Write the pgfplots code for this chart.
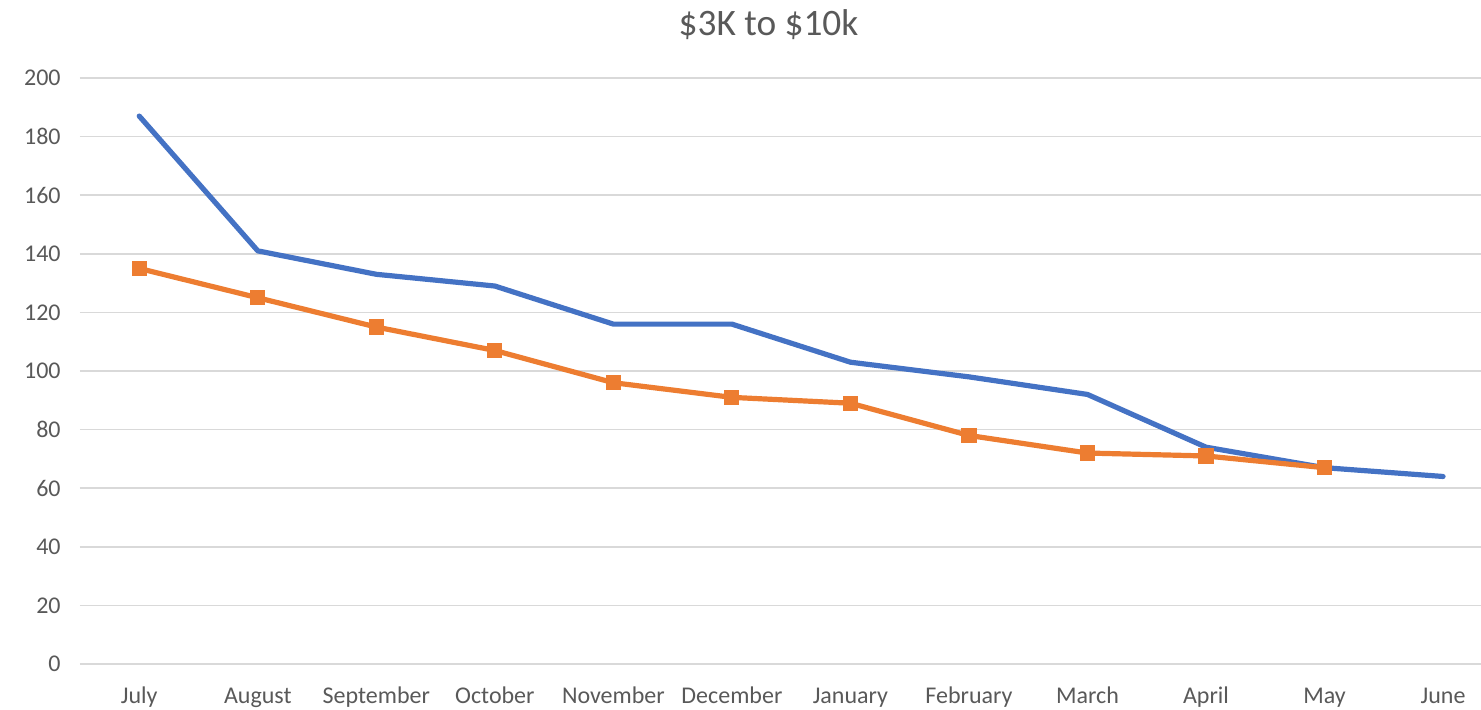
\documentclass[border=0pt]{standalone}
\usepackage{pgfplots}
\pgfplotsset{compat=1.18}
\usepackage{fontspec}
\setmainfont{Carlito}
\definecolor{cblue}{HTML}{4472C4}
\definecolor{corange}{HTML}{ED7D31}
\definecolor{cgrid}{HTML}{D9D9D9}
\definecolor{ctext}{HTML}{595959}
\begin{document}
\begin{tikzpicture}
\path[use as bounding box] (-60pt,-34.5pt) rectangle (1050.75pt,498pt);
\begin{axis}[
  at={(0,0)}, anchor=south west,
  scale only axis,
  width=1050.75pt, height=439.5pt,
  xmin=-0.5, xmax=11.32,
  ymin=0, ymax=200,
  ytick={0,20,...,200},
  xtick={0,...,11},
  xticklabels={July,August,September,October,November,December,January,February,March,April,May,June},
  axis line style={draw=none},
  major tick length=0pt,
  ymajorgrids,
  grid style={cgrid, line width=1.2pt},
  tick label style={font=\fontsize{18}{20}\selectfont, text=ctext},
  /pgf/number format/assume math mode=true,
  yticklabel style={xshift=-11pt},
  xticklabel style={text height=12pt, text depth=3pt, yshift=-14pt},
  title={\$3K to \$10k},
  title style={font=\fontsize{28}{32}\selectfont, text=ctext, yshift=19pt, xshift=-9pt},
  clip=false,
]
\addplot[cblue, line width=3.9pt, line join=round, line cap=round] coordinates {
  (0,187) (1,141) (2,133) (3,129) (4,116) (5,116) (6,103) (7,98) (8,92) (9,74) (10,67) (11,64)
};
\addplot[corange, line width=3.9pt, line join=round, mark=square*, mark size=5.3pt, mark options={line width=0pt}] coordinates {
  (0,135) (1,125) (2,115) (3,107) (4,96) (5,91) (6,89) (7,78) (8,72) (9,71) (10,67)
};
\end{axis}
\end{tikzpicture}
\end{document}
